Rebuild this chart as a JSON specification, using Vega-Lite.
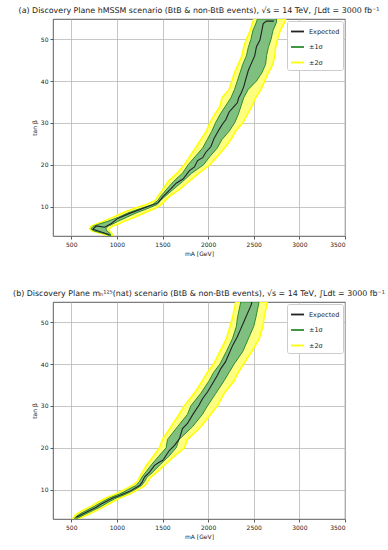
{
  "$schema": "https://vega.github.io/schema/vega-lite/v6.json",
  "padding": {"left": 12, "top": 6, "right": 4, "bottom": 4},
  "spacing": 32,
  "datasets": {
    "bandA": [
      {"t": 3.1, "ylo": 905, "glo": 915, "ghi": 935, "yhi": 950},
      {"t": 3.6, "ylo": 830, "glo": 860, "ghi": 925, "yhi": 945},
      {"t": 4.2, "ylo": 730, "glo": 750, "ghi": 890, "yhi": 920},
      {"t": 4.7, "ylo": 700, "glo": 715, "ghi": 880, "yhi": 915},
      {"t": 5.3, "ylo": 715, "glo": 740, "ghi": 900, "yhi": 950},
      {"t": 5.8, "ylo": 770, "glo": 800, "ghi": 950, "yhi": 1010},
      {"t": 6.5, "ylo": 850, "glo": 900, "ghi": 1010, "yhi": 1080},
      {"t": 7.5, "ylo": 960, "glo": 1020, "ghi": 1110, "yhi": 1200},
      {"t": 8.5, "ylo": 1060, "glo": 1120, "ghi": 1210, "yhi": 1300},
      {"t": 9.5, "ylo": 1180, "glo": 1250, "ghi": 1330, "yhi": 1410},
      {"t": 10.5, "ylo": 1320, "glo": 1390, "ghi": 1440, "yhi": 1490},
      {"t": 11.5, "ylo": 1420, "glo": 1450, "ghi": 1480, "yhi": 1530},
      {"t": 12.5, "ylo": 1450, "glo": 1480, "ghi": 1530, "yhi": 1580},
      {"t": 14, "ylo": 1500, "glo": 1540, "ghi": 1610, "yhi": 1680},
      {"t": 16, "ylo": 1560, "glo": 1620, "ghi": 1720, "yhi": 1790},
      {"t": 18, "ylo": 1660, "glo": 1720, "ghi": 1820, "yhi": 1900},
      {"t": 20, "ylo": 1740, "glo": 1780, "ghi": 1950, "yhi": 2020},
      {"t": 22, "ylo": 1800, "glo": 1860, "ghi": 2020, "yhi": 2100},
      {"t": 24, "ylo": 1860, "glo": 1940, "ghi": 2100, "yhi": 2180},
      {"t": 26, "ylo": 1920, "glo": 1990, "ghi": 2150, "yhi": 2250},
      {"t": 28, "ylo": 1980, "glo": 2040, "ghi": 2230, "yhi": 2300},
      {"t": 30, "ylo": 2020, "glo": 2080, "ghi": 2290, "yhi": 2380},
      {"t": 32, "ylo": 2070, "glo": 2130, "ghi": 2330, "yhi": 2430},
      {"t": 34, "ylo": 2130, "glo": 2190, "ghi": 2360, "yhi": 2480},
      {"t": 36, "ylo": 2150, "glo": 2250, "ghi": 2390, "yhi": 2520},
      {"t": 38, "ylo": 2230, "glo": 2290, "ghi": 2440, "yhi": 2580},
      {"t": 40, "ylo": 2260, "glo": 2320, "ghi": 2530, "yhi": 2620},
      {"t": 42, "ylo": 2290, "glo": 2350, "ghi": 2590, "yhi": 2660},
      {"t": 44, "ylo": 2330, "glo": 2380, "ghi": 2630, "yhi": 2710},
      {"t": 46, "ylo": 2370, "glo": 2420, "ghi": 2640, "yhi": 2730},
      {"t": 48, "ylo": 2390, "glo": 2440, "ghi": 2660, "yhi": 2740},
      {"t": 50, "ylo": 2420, "glo": 2470, "ghi": 2690, "yhi": 2760},
      {"t": 52, "ylo": 2460, "glo": 2490, "ghi": 2710, "yhi": 2790},
      {"t": 54.1, "ylo": 2490, "glo": 2530, "ghi": 2750, "yhi": 2840},
      {"t": 54.8, "ylo": 2500, "glo": 2540, "ghi": 2750, "yhi": 2850}
    ],
    "expA": [
      {"i": 1, "m": 920, "t": 3.3}, {"i": 2, "m": 737, "t": 4.6}, {"i": 3, "m": 775, "t": 5.4},
      {"i": 4, "m": 865, "t": 5.1}, {"i": 5, "m": 940, "t": 6.0}, {"i": 6, "m": 1010, "t": 7.2},
      {"i": 7, "m": 1140, "t": 8.4}, {"i": 8, "m": 1290, "t": 9.6}, {"i": 9, "m": 1450, "t": 10.9},
      {"i": 10, "m": 1505, "t": 12.4}, {"i": 11, "m": 1580, "t": 14.0}, {"i": 12, "m": 1650, "t": 15.6},
      {"i": 13, "m": 1725, "t": 16.6}, {"i": 14, "m": 1795, "t": 18.6}, {"i": 15, "m": 1850, "t": 19.5},
      {"i": 16, "m": 1885, "t": 21.0}, {"i": 17, "m": 1940, "t": 21.7}, {"i": 18, "m": 1975, "t": 23.0},
      {"i": 19, "m": 2030, "t": 24.3}, {"i": 20, "m": 2065, "t": 26.3}, {"i": 21, "m": 2120, "t": 28.4},
      {"i": 22, "m": 2160, "t": 29.8}, {"i": 23, "m": 2195, "t": 30.8}, {"i": 24, "m": 2230, "t": 32.6},
      {"i": 25, "m": 2280, "t": 33.8}, {"i": 26, "m": 2320, "t": 34.8}, {"i": 27, "m": 2335, "t": 36.0},
      {"i": 28, "m": 2360, "t": 37.0}, {"i": 29, "m": 2390, "t": 38.6}, {"i": 30, "m": 2410, "t": 40.2},
      {"i": 31, "m": 2440, "t": 42.5}, {"i": 32, "m": 2480, "t": 44.5}, {"i": 33, "m": 2510, "t": 46.0},
      {"i": 34, "m": 2530, "t": 48.2}, {"i": 35, "m": 2568, "t": 49.8}, {"i": 36, "m": 2586, "t": 51.7},
      {"i": 37, "m": 2604, "t": 53.7}, {"i": 38, "m": 2640, "t": 54.3}, {"i": 39, "m": 2720, "t": 54.3}
    ],
    "bandB": [
      {"t": 3.2, "ylo": 520, "glo": 535, "ghi": 570, "yhi": 590},
      {"t": 4, "ylo": 545, "glo": 578, "ghi": 640, "yhi": 680},
      {"t": 5, "ylo": 620, "glo": 662, "ghi": 735, "yhi": 775},
      {"t": 6, "ylo": 715, "glo": 752, "ghi": 828, "yhi": 865},
      {"t": 7, "ylo": 790, "glo": 832, "ghi": 905, "yhi": 945},
      {"t": 8, "ylo": 880, "glo": 918, "ghi": 992, "yhi": 1030},
      {"t": 9, "ylo": 990, "glo": 1032, "ghi": 1105, "yhi": 1145},
      {"t": 10, "ylo": 1080, "glo": 1120, "ghi": 1195, "yhi": 1235},
      {"t": 11, "ylo": 1170, "glo": 1210, "ghi": 1270, "yhi": 1310},
      {"t": 12, "ylo": 1225, "glo": 1250, "ghi": 1305, "yhi": 1340},
      {"t": 13, "ylo": 1250, "glo": 1275, "ghi": 1330, "yhi": 1370},
      {"t": 14, "ylo": 1275, "glo": 1310, "ghi": 1385, "yhi": 1430},
      {"t": 16, "ylo": 1330, "glo": 1380, "ghi": 1475, "yhi": 1530},
      {"t": 18, "ylo": 1400, "glo": 1460, "ghi": 1570, "yhi": 1630},
      {"t": 20, "ylo": 1467, "glo": 1540, "ghi": 1650, "yhi": 1741},
      {"t": 22, "ylo": 1500, "glo": 1555, "ghi": 1682, "yhi": 1774},
      {"t": 25, "ylo": 1591, "glo": 1664, "ghi": 1828, "yhi": 1920},
      {"t": 28, "ylo": 1682, "glo": 1774, "ghi": 1938, "yhi": 2029},
      {"t": 30, "ylo": 1737, "glo": 1810, "ghi": 1993, "yhi": 2102},
      {"t": 33, "ylo": 1847, "glo": 1920, "ghi": 2084, "yhi": 2175},
      {"t": 36, "ylo": 1938, "glo": 2011, "ghi": 2175, "yhi": 2285},
      {"t": 38, "ylo": 1990, "glo": 2060, "ghi": 2230, "yhi": 2330},
      {"t": 40, "ylo": 2060, "glo": 2130, "ghi": 2285, "yhi": 2390},
      {"t": 43, "ylo": 2130, "glo": 2200, "ghi": 2380, "yhi": 2480},
      {"t": 46, "ylo": 2200, "glo": 2266, "ghi": 2440, "yhi": 2560},
      {"t": 49, "ylo": 2240, "glo": 2310, "ghi": 2500, "yhi": 2600},
      {"t": 51, "ylo": 2266, "glo": 2321, "ghi": 2522, "yhi": 2613},
      {"t": 54.8, "ylo": 2303, "glo": 2358, "ghi": 2558, "yhi": 2650}
    ],
    "expB": [
      {"i": 1, "m": 555, "t": 3.4}, {"i": 2, "m": 610, "t": 4.0}, {"i": 3, "m": 664, "t": 4.6},
      {"i": 4, "m": 774, "t": 5.8}, {"i": 5, "m": 829, "t": 6.6}, {"i": 6, "m": 883, "t": 7.2},
      {"i": 7, "m": 956, "t": 8.0}, {"i": 8, "m": 1029, "t": 8.6}, {"i": 9, "m": 1139, "t": 9.6},
      {"i": 10, "m": 1248, "t": 11.0}, {"i": 11, "m": 1277, "t": 11.8}, {"i": 12, "m": 1303, "t": 13.0},
      {"i": 13, "m": 1358, "t": 14.2}, {"i": 14, "m": 1413, "t": 15.8}, {"i": 15, "m": 1467, "t": 16.6},
      {"i": 16, "m": 1504, "t": 17.0}, {"i": 17, "m": 1540, "t": 18.2}, {"i": 18, "m": 1577, "t": 19.4},
      {"i": 19, "m": 1632, "t": 20.6}, {"i": 20, "m": 1686, "t": 22.2}, {"i": 21, "m": 1719, "t": 24.6},
      {"i": 22, "m": 1774, "t": 25.8}, {"i": 23, "m": 1828, "t": 27.8}, {"i": 24, "m": 1901, "t": 30.2},
      {"i": 25, "m": 1938, "t": 31.7}, {"i": 26, "m": 1993, "t": 33.3}, {"i": 27, "m": 2047, "t": 35.3},
      {"i": 28, "m": 2102, "t": 37.3}, {"i": 29, "m": 2139, "t": 38.9}, {"i": 30, "m": 2190, "t": 40.5},
      {"i": 31, "m": 2230, "t": 42.5}, {"i": 32, "m": 2270, "t": 44.5}, {"i": 33, "m": 2320, "t": 46.5},
      {"i": 34, "m": 2360, "t": 48.5}, {"i": 35, "m": 2400, "t": 50.5}, {"i": 36, "m": 2440, "t": 52.5},
      {"i": 37, "m": 2470, "t": 54.0}, {"i": 38, "m": 2480, "t": 54.8}
    ]
  },
  "vconcat": [
    {
      "title": "(a) Discovery Plane hMSSM scenario (BtB & non-BtB events), √s = 14 TeV, ∫Ldt = 3000 fb⁻¹",
      "width": 292,
      "height": 217,
      "layer": [
        {
          "data": {"name": "bandA"},
          "mark": {"type": "area", "orient": "horizontal", "fill": "#ffff80", "strokeWidth": 1.5, "clip": true},
          "encoding": {
            "y": {"field": "t", "type": "quantitative", "scale": {"domain": [3, 54.8], "nice": false, "zero": false}, "axis": {"values": [10, 20, 30, 40, 50], "title": "tan β", "format": "d"}},
            "x": {"field": "ylo", "type": "quantitative", "scale": {"domain": [300, 3500], "nice": false, "zero": false}, "axis": {"values": [500, 1000, 1500, 2000, 2500, 3000, 3500], "title": "mA [GeV]", "format": "d"}},
            "x2": {"field": "yhi"},
            "stroke": {"datum": "±2σ", "type": "nominal", "scale": {"domain": ["Expected", "±1σ", "±2σ"], "range": ["#222222", "#2e8b2e", "#ffff00"]}, "legend": {"title": null}}
          }
        },
        {
          "data": {"name": "bandA"},
          "mark": {"type": "area", "orient": "horizontal", "fill": "#7fbf7f", "strokeWidth": 1, "clip": true},
          "encoding": {
            "y": {"field": "t", "type": "quantitative"},
            "x": {"field": "glo", "type": "quantitative"},
            "x2": {"field": "ghi"},
            "stroke": {"datum": "±1σ", "type": "nominal"}
          }
        },
        {
          "data": {"name": "expA"},
          "mark": {"type": "line", "strokeWidth": 1.1, "clip": true},
          "encoding": {
            "x": {"field": "m", "type": "quantitative"},
            "y": {"field": "t", "type": "quantitative"},
            "order": {"field": "i", "type": "quantitative"},
            "stroke": {"datum": "Expected", "type": "nominal"}
          }
        }
      ]
    },
    {
      "title": "(b) Discovery Plane mₕ¹²⁵(nat) scenario (BtB & non-BtB events), √s = 14 TeV, ∫Ldt = 3000 fb⁻¹",
      "width": 292,
      "height": 217,
      "layer": [
        {
          "data": {"name": "bandB"},
          "mark": {"type": "area", "orient": "horizontal", "fill": "#ffff80", "strokeWidth": 1.5, "clip": true},
          "encoding": {
            "y": {"field": "t", "type": "quantitative", "scale": {"domain": [3, 54.8], "nice": false, "zero": false}, "axis": {"values": [10, 20, 30, 40, 50], "title": "tan β", "format": "d"}},
            "x": {"field": "ylo", "type": "quantitative", "scale": {"domain": [300, 3500], "nice": false, "zero": false}, "axis": {"values": [500, 1000, 1500, 2000, 2500, 3000, 3500], "title": "mA [GeV]", "format": "d"}},
            "x2": {"field": "yhi"},
            "stroke": {"datum": "±2σ", "type": "nominal", "scale": {"domain": ["Expected", "±1σ", "±2σ"], "range": ["#222222", "#2e8b2e", "#ffff00"]}, "legend": {"title": null}}
          }
        },
        {
          "data": {"name": "bandB"},
          "mark": {"type": "area", "orient": "horizontal", "fill": "#7fbf7f", "strokeWidth": 1, "clip": true},
          "encoding": {
            "y": {"field": "t", "type": "quantitative"},
            "x": {"field": "glo", "type": "quantitative"},
            "x2": {"field": "ghi"},
            "stroke": {"datum": "±1σ", "type": "nominal"}
          }
        },
        {
          "data": {"name": "expB"},
          "mark": {"type": "line", "strokeWidth": 1.1, "clip": true},
          "encoding": {
            "x": {"field": "m", "type": "quantitative"},
            "y": {"field": "t", "type": "quantitative"},
            "order": {"field": "i", "type": "quantitative"},
            "stroke": {"datum": "Expected", "type": "nominal"}
          }
        }
      ]
    }
  ],
  "resolve": {"scale": {"stroke": "independent"}, "legend": {"stroke": "independent"}},
  "config": {
    "font": "DejaVu Sans",
    "background": "white",
    "view": {"stroke": "#333333", "strokeWidth": 0.8},
    "title": {"fontSize": 7.9, "fontWeight": "normal", "color": "#222222", "anchor": "middle", "frame": "group", "offset": 4},
    "axis": {
      "grid": true, "gridColor": "#b8b8b8", "gridWidth": 0.8, "domain": false,
      "tickColor": "#333333", "tickSize": 3, "tickWidth": 0.8,
      "labelFontSize": 6, "labelColor": "#222222", "labelPadding": 2,
      "titleFontSize": 6, "titleFontWeight": "normal", "titleColor": "#222222", "titlePadding": 3
    },
    "legend": {
      "orient": "top-right", "offset": 2, "symbolType": "stroke", "symbolStrokeWidth": 1.8, "symbolSize": 170,
      "labelFontSize": 6.5, "labelColor": "#222222", "rowPadding": 3.5, "padding": 3,
      "fillColor": "white", "strokeColor": "#cccccc", "cornerRadius": 2
    }
  }
}
